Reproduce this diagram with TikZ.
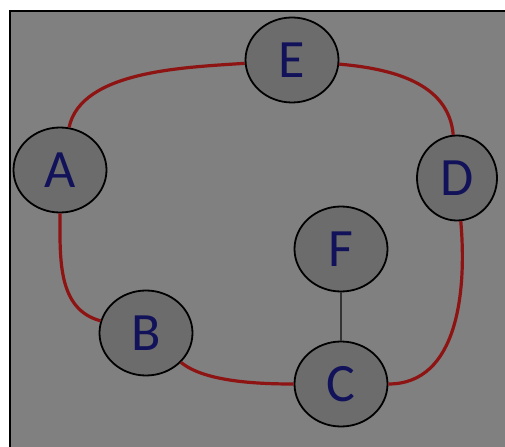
\documentclass[tikz,border=0pt]{standalone}
\usepackage{fontspec}
\setmainfont{Carlito}
\usetikzlibrary{shapes.geometric}
\definecolor{canvas}{HTML}{808080}
\definecolor{nodefill}{HTML}{6C6C6C}
\definecolor{lettercol}{HTML}{12125A}
\definecolor{ringred}{HTML}{8E1414}

\tikzset{
  vertex/.style={ellipse, draw=black, line width=1.8bp, fill=nodefill,
    minimum width=93bp, minimum height=85bp, inner sep=0pt,
    text=lettercol, font=\fontsize{54bp}{54bp}\selectfont},
  ring/.style={draw=ringred, line width=3.2bp},
  spoke/.style={draw=black!80, line width=1.3bp}
}

\begin{document}
\begin{tikzpicture}[x=1bp,y=-1bp]
  \useasboundingbox (0,0) rectangle (505,447);
  \fill[white] (0,0) rectangle (505,447);
  \fill[canvas] (10,11) rectangle (512,452);
  \draw[black, line width=2bp] (10,452) -- (10,11) -- (512,11);

  % nodes
  \node[vertex] (E) at (292,60) {E};
  \node[vertex] (A) at (60,170) {A};
  \node[vertex, minimum width=80bp] (D) at (457,178) {D};
  \node[vertex] (F) at (341,249) {F};
  \node[vertex] (C) at (341,384) {C};
  \node[vertex] (B) at (146,333) {B};

  % outer ring
  \draw[ring] (A) to[out=78, in=184, looseness=0.8] (E);
  \draw[ring] (E) to[out=-5, in=95] (D);
  \draw[ring] (D) to[out=-85, in=0] (C);
  \draw[ring] (C) to[out=180, in=-40, looseness=0.7] (B);
  \draw[ring] (B) to[out=165, in=-90] (A);

  % inner spoke
  \draw[spoke] (F) -- (C);
\end{tikzpicture}
\end{document}
